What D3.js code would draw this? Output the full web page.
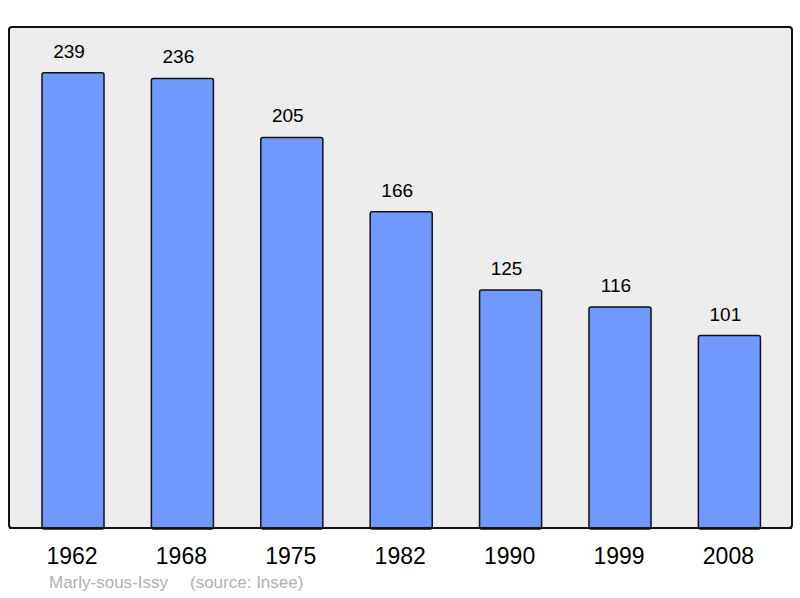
<!DOCTYPE html>
<html>
<head>
  <script src="https://d3js.org/d3.v7.min.js"></script>
  <style>
    body { margin: 0; background: #fff; }
    text { font-family: "Liberation Sans", Arial, sans-serif; }
  </style>
</head>
<body>
  <svg width="800" height="598"></svg>
  <script>
    // Population by census year
    const years = ["1962", "1968", "1975", "1982", "1990", "1999", "2008"];
    const population = [239, 236, 205, 166, 125, 116, 101];
    const commune = "Marly-sous-Issy";
    const source = "(source: Insee)";

    const frame = { left: 9, top: 27, right: 792, bottom: 528 };

    const svg = d3.select("svg");

    // Background frame
    svg.append("rect")
      .attr("x", frame.left)
      .attr("y", frame.top)
      .attr("width", frame.right - frame.left)
      .attr("height", frame.bottom - frame.top)
      .attr("rx", 3)
      .attr("fill", "#ededed")
      .attr("stroke", "#111")
      .attr("stroke-width", 2);

    const x = d3.scaleBand()
      .domain(years)
      .range([18.3, 784.1])
      .paddingInner(0.433)
      .paddingOuter(0.2165);

    const y = d3.scaleLinear()
      .domain([0, 263])
      .range([frame.bottom, frame.top]);

    const data = years.map((yr, i) => ({ year: yr, value: population[i] }));

    // Bars
    svg.append("g")
      .selectAll("rect")
      .data(data)
      .join("rect")
      .attr("x", d => x(d.year))
      .attr("y", d => y(d.value))
      .attr("width", x.bandwidth())
      .attr("height", d => y(0) - y(d.value) + 1)
      .attr("rx", 2)
      .attr("fill", "#7099ff")
      .attr("stroke", "#111")
      .attr("stroke-width", 1.5);

    // Value labels
    svg.append("g")
      .selectAll("text")
      .data(data)
      .join("text")
      .attr("x", d => x(d.year) + x.bandwidth() / 2 - 4)
      .attr("y", d => y(d.value) - 15)
      .attr("text-anchor", "middle")
      .attr("font-size", 19)
      .attr("fill", "#000")
      .text(d => d.value);

    // Redraw the bottom edge of the frame over the bars
    svg.append("line")
      .attr("x1", frame.left).attr("x2", frame.right)
      .attr("y1", frame.bottom).attr("y2", frame.bottom)
      .attr("stroke", "#111")
      .attr("stroke-width", 2);

    // Year axis
    const axis = svg.append("g")
      .attr("transform", `translate(0,${frame.bottom})`)
      .call(d3.axisBottom(x).tickSize(0).tickPadding(0));
    axis.select(".domain").remove();
    axis.selectAll("text")
      .attr("dy", null)
      .attr("x", -1)
      .attr("y", 36)
      .attr("font-size", 23)
      .attr("font-family", "Liberation Sans, Arial, sans-serif")
      .attr("fill", "#000");

    // Footer
    svg.append("text")
      .attr("x", 49)
      .attr("y", 588)
      .attr("font-size", 17)
      .attr("fill", "#b0b0b0")
      .text(commune);
    svg.append("text")
      .attr("x", 190)
      .attr("y", 588)
      .attr("font-size", 17)
      .attr("fill", "#b0b0b0")
      .text(source);
  </script>
</body>
</html>
